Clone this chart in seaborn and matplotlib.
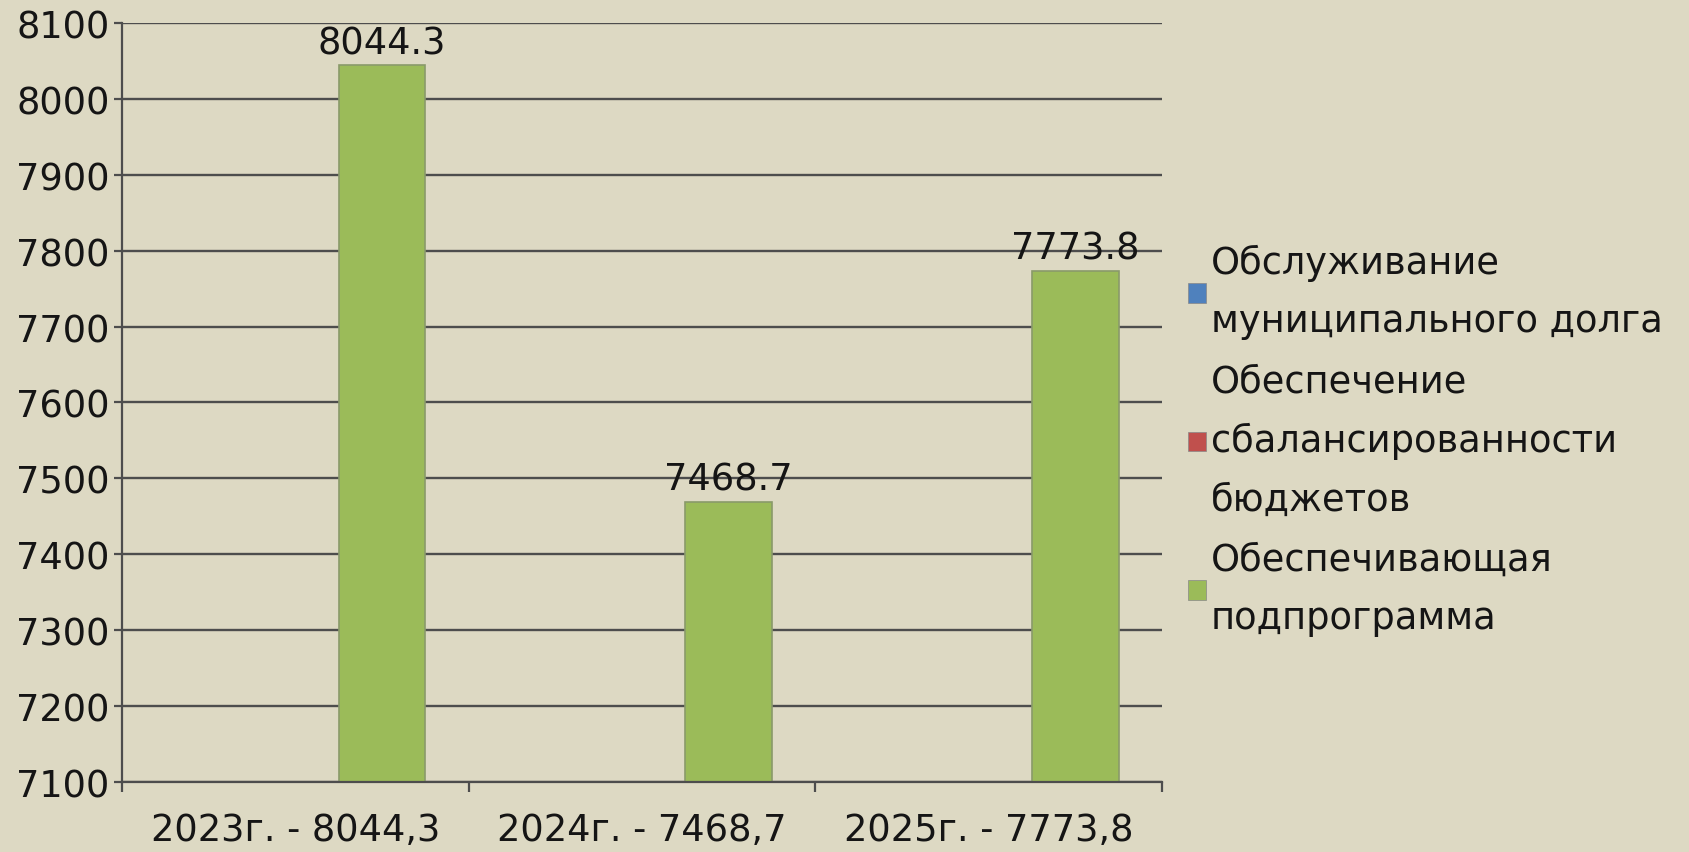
import pandas as pd
import matplotlib.pyplot as plt
import seaborn as sns
from matplotlib.patches import Patch

# Chart data
years = ["2023г. - 8044,3", "2024г. - 7468,7", "2025г. - 7773,8"]
series = [
    "Обслуживание\nмуниципального долга",
    "Обеспечение\nсбалансированности\nбюджетов",
    "Обеспечивающая\nподпрограмма",
]
debt_service = [0, 0, 0]
balance = [0, 0, 0]
support = [8044.3, 7468.7, 7773.8]
colors = ["#4F81BD", "#C0504D", "#9BBB59"]

df = pd.DataFrame({
    "year": years * 3,
    "series": [series[0]] * 3 + [series[1]] * 3 + [series[2]] * 3,
    "value": debt_service + balance + support,
})

bg = "#DDD9C3"
dark = "#4D4D4D"
ink = "#151515"
sns.set_style("white", rc={"axes.facecolor": bg, "figure.facecolor": bg,
                           "text.color": ink, "xtick.color": ink, "ytick.color": ink})
plt.rcParams["font.family"] = ["DejaVu Sans"]

fig = plt.figure(figsize=(16.9, 8.53), dpi=100)
ax = fig.add_axes([0.0722, 0.0821, 0.6154, 0.8898])

sns.barplot(data=df, x="year", y="value", hue="series", hue_order=series,
            palette=colors, saturation=1, width=0.75, edgecolor="#8A9A6A",
            linewidth=1.2, legend=False, ax=ax)

# value labels on the green bars
ax.bar_label(ax.containers[2], fmt="%.1f", fontsize=26.5, padding=3, color=ink)

ax.set_ylim(7100, 8100)
ax.set_yticks(range(7100, 8101, 100))
ax.set_xlim(-0.5, 2.5)
ax.set_xticks([-0.5, 0.5, 1.5, 2.5], minor=True)
ax.yaxis.grid(True, color=dark, linewidth=1.7)
ax.set_axisbelow(True)
ax.set_xlabel("")
ax.set_ylabel("")

ax.tick_params(axis="y", which="major", length=6, width=1.6, color=dark,
               pad=3, labelsize=26.5, left=True, labelcolor=ink)
ax.tick_params(axis="x", which="major", length=0, pad=21, labelsize=26.5,
               labelcolor=ink)
ax.tick_params(axis="x", which="minor", length=7, width=1.6, color=dark,
               direction="out", bottom=True)

for side in ["top", "right"]:
    ax.spines[side].set_visible(False)
for side in ["left", "bottom"]:
    ax.spines[side].set_color(dark)
    ax.spines[side].set_linewidth(1.6)

handles = [Patch(facecolor=c, edgecolor="#888888", linewidth=0.5) for c in colors]
leg = ax.legend(handles, series, loc="center left", bbox_to_anchor=(0.703, 0.483),
                bbox_transform=fig.transFigure, frameon=False, fontsize=26.5,
                handlelength=0.5, handleheight=0.45, handletextpad=0.12,
                labelspacing=0.63, borderpad=0, borderaxespad=0)
for t in leg.get_texts():
    t.set_linespacing(1.75)
    t.set_color(ink)

fig.savefig("out.png", dpi=100, facecolor=bg)
